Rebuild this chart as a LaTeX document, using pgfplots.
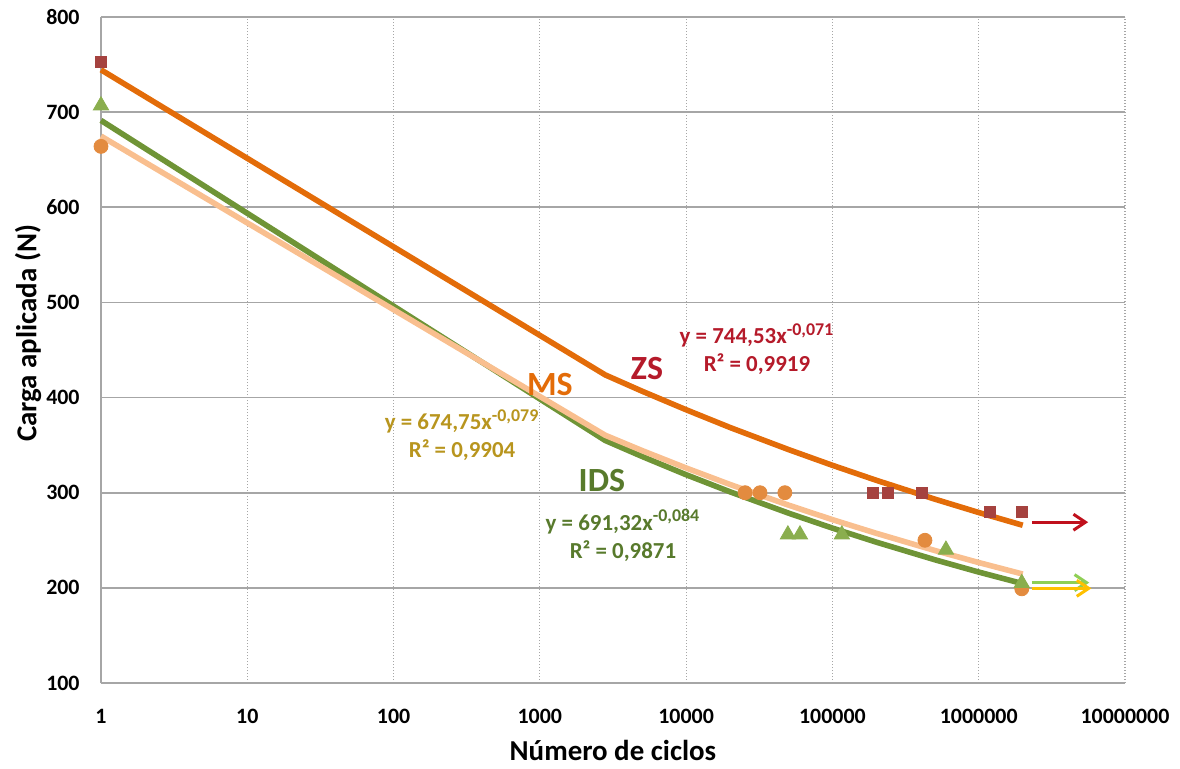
\documentclass[border=0pt]{standalone}
\usepackage{fontspec}
\setmainfont{Carlito}
\usepackage{pgfplots}
\pgfplotsset{compat=1.18}
\usetikzlibrary{arrows.meta}
\definecolor{zsline}{HTML}{E36C09}
\definecolor{msline}{HTML}{F9BF8F}
\definecolor{idsline}{HTML}{6F9436}
\definecolor{zsmark}{HTML}{A5423F}
\definecolor{msmark}{HTML}{E38B3F}
\definecolor{idsmark}{HTML}{8AAE4E}
\definecolor{zstext}{HTML}{B51A2A}
\definecolor{mstext}{HTML}{E36C09}
\definecolor{mseq}{HTML}{B8951E}
\definecolor{idstext}{HTML}{587A2C}
\definecolor{redarrow}{HTML}{C0101C}
\definecolor{greenarrow}{HTML}{8FCF55}
\definecolor{yellowarrow}{HTML}{FFC000}
\definecolor{gridgray}{HTML}{A6A6A6}
\begin{document}
\begin{tikzpicture}
\begin{axis}[
  at={(0,0)}, anchor=south west,
  scale only axis, width=512bp, height=333bp,
  xmode=log, xmin=1, xmax=1e7, ymin=100, ymax=800,
  xtick={1,10,100,1000,10000,100000,1000000,10000000},
  xticklabels={1,10,100,1000,10000,100000,1000000,10000000},
  ytick={100,200,300,400,500,600,700,800},
  major tick length=0, minor tick num=0,
  log basis x=10,
  /pgf/number format/assume math mode=true,
  /pgf/number format/1000 sep={},
  ticklabel style={font=\fontsize{11}{13}\selectfont\bfseries, text=black},
  xticklabel style={anchor=center, yshift=-16.5bp},
  yticklabel style={anchor=east, inner sep=0pt, xshift=-10.5bp},
  grid=major,
  x grid style={gridgray, line width=0.6bp, dash pattern=on 0.6bp off 0.9bp},
  y grid style={gridgray, line width=0.8bp},
  axis x line*=bottom, axis y line*=left,
  axis line style={-, gridgray, line width=0.8bp},
  xlabel={Número de ciclos},
  ylabel={Carga aplicada (N)},
  label style={font=\fontsize{14.5}{17}\selectfont\bfseries},
  xlabel style={at={(axis description cs:0.5,0)}, anchor=center, yshift=-33.5bp},
  ylabel style={at={(axis description cs:-0.0713,0.525)}, anchor=center},
  clip=false,
]
% data points
\addplot[only marks, mark=square*, mark size=2.8bp, color=zsmark] coordinates {
  (1,753) (189000,300) (240000,300) (409000,300) (1190000,280) (1970000,280)};
\addplot[only marks, mark=*, mark size=3.5bp, color=msmark] coordinates {
  (1,664) (25300,300) (32000,300) (47300,300) (429000,250) (1970000,199)};
\addplot[only marks, mark=triangle*, mark size=4.4bp, color=idsmark] coordinates {
  (1,707) (49600,256) (60000,256) (116000,256) (597000,240) (1970000,205)};
% trend lines
\addplot[no marks, line width=2.8bp, color=idsline] coordinates {
  (1,691.3) (2800,354.9) (5000,338.1) (10000,318.9) (20000,300.9) (50000,278.6)
  (100000,262.8) (200000,248.0) (500000,229.6) (1000000,216.6) (2000000,204.4)};
\addplot[no marks, line width=2.8bp, color=msline] coordinates {
  (1,674.8) (2800,360.4) (5000,344.3) (10000,326.0) (20000,308.6) (50000,287.0)
  (100000,271.7) (200000,257.3) (500000,239.3) (1000000,226.6) (2000000,214.5)};
\addplot[no marks, line width=2.8bp, color=zsline] coordinates {
  (1,744.5) (2800,423.8) (5000,406.7) (10000,387.2) (20000,368.5) (50000,345.4)
  (100000,328.8) (200000,313.0) (500000,293.3) (1000000,279.2) (2000000,265.8)};
% run-out arrows
\addplot[no marks, line width=1.5bp, color=redarrow, -{Straight Barb[length=6bp,width=8bp]}] coordinates {(2310000,269) (5600000,269)};
\addplot[no marks, line width=1.5bp, color=greenarrow, -{Straight Barb[length=6bp,width=8bp]}] coordinates {(2310000,205.5) (5700000,205.5)};
\addplot[no marks, line width=1.5bp, color=yellowarrow, -{Straight Barb[length=6bp,width=8bp]}] coordinates {(2310000,199.5) (5900000,199.5)};
% labels
\node[font=\fontsize{11.5}{14}\selectfont\bfseries, text=zstext, align=center] at (axis cs:30500,451) {y = 744,53x\textsuperscript{\fontsize{9}{10}\selectfont -0,071}\\R² = 0,9919};
\node[font=\fontsize{11.5}{14}\selectfont\bfseries, text=mseq, align=center] at (axis cs:294,360.5) {y = 674,75x\textsuperscript{\fontsize{9}{10}\selectfont -0,079}\\R² = 0,9904};
\node[font=\fontsize{11.5}{14}\selectfont\bfseries, text=idstext, align=center] at (axis cs:3700,255.3) {y = 691,32x\textsuperscript{\fontsize{9}{10}\selectfont -0,084}\\R² = 0,9871};
\node[font=\fontsize{17}{20}\selectfont\bfseries, text=zstext] at (axis cs:5400,431) {ZS};
\node[font=\fontsize{17}{20}\selectfont\bfseries, text=mstext] at (axis cs:1172,414) {MS};
\node[font=\fontsize{17}{20}\selectfont\bfseries, text=idstext] at (axis cs:2657,313) {IDS};
\end{axis}
\pgfresetboundingbox
\path[use as bounding box] (-50.5bp,-43bp) rectangle (539.5bp,341.5bp);
\end{tikzpicture}
\end{document}
